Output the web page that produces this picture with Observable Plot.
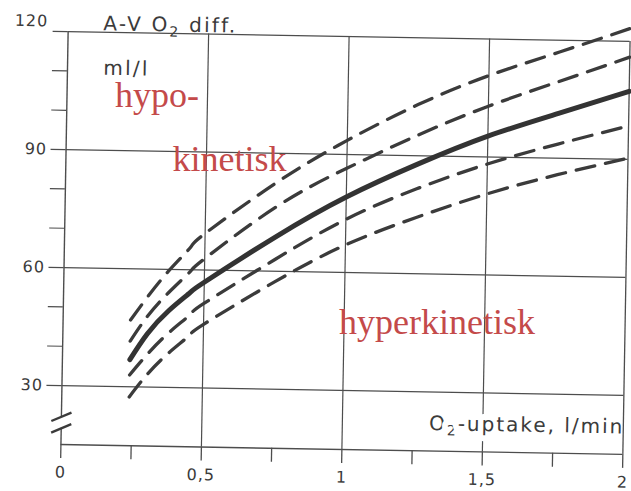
<!DOCTYPE html>
<html>
<head>
<meta charset="utf-8">
<script src="https://cdn.jsdelivr.net/npm/d3@7"></script>
<script src="https://cdn.jsdelivr.net/npm/@observablehq/plot@0.6"></script>
<style>
  html, body { margin: 0; padding: 0; background: #fff; }
  #chart svg { display: block; }
</style>
</head>
<body>
<div id="chart"></div>
<script>
// O2 uptake (l/min) where each curve is sampled
const uptake = [0.24, 0.3, 0.375, 0.45, 0.5, 0.75, 1, 1.25, 1.5, 1.75, 2];
// A-V O2 difference (ml/l): two upper dashed bands, the normal curve, two lower dashed bands
const upper2 = [47, 53, 59.8, 65.8, 69.3, 82.5, 93.6, 103, 110.7, 117, 123.3];
const upper1 = [41.6, 48, 54.2, 59.6, 62.9, 76.3, 86.5, 95.2, 102.9, 109.5, 116];
const normal = [36.9, 43.5, 49.5, 54.2, 56.9, 68.7, 79.2, 87.8, 95.3, 101.4, 107.3];
const lower1 = [33, 38.2, 43.8, 48.5, 51.5, 63, 73.5, 81.6, 88.2, 93.6, 98.5];
const lower2 = [27.4, 33, 38.6, 43.3, 46.2, 57.3, 67, 74.3, 80.6, 85.8, 90.3];

// axis ticks and labels
const xTicksMajor = [0, 0.5, 1, 1.5, 2];
const xTicksMinor = [0.25, 0.75, 1.25, 1.75];
const xTickLabels = ["0", "0,5", "1", "1,5", "2"];
const yTicks = [30, 40, 50, 60, 70, 80, 90, 100, 110, 120];
const yLabelValues = [30, 60, 90, 120];
const yTickLabels = ["30", "60", "90", "120"];

// titles and region labels
const yTitle = "A-V O\u2082 diff.";
const yUnit = "ml/l";
const xTitle = "O\u2082-uptake, l/min";
const regionText = ["hypo-", "kinetisk", "hyperkinetisk"];
const regionX = [0.18, 0.384, 0.977];
const regionY = [102.2, 85.9, 44.4];

// layout
const W = 631, H = 491;
const mL = 64, mR = 5, mT = 36, mB = 42;
const xMin = 0, xMax = 2, yMin = 15, yMax = 120;
const pxPerX = (W - mL - mR) / (xMax - xMin);
const pxPerY = (H - mT - mB) / (yMax - yMin);
const ink = "#3b3b3b";
const gridInk = "#4d4d4d";

// broken y axis: gap between the two slashes
const breakHi = 22.07, breakLo = 19.12;
const slashHalfX = 10 / pxPerX, slashRise = 4.4 / pxPerY;
const slashes = [breakHi, breakLo].map(v => ({x1: -slashHalfX, y1: v - slashRise, x2: slashHalfX, y2: v + slashRise}));
const axisSegments = [[yMin, breakLo], [breakHi, yMax]];

const xTickLen = 14 / pxPerY;
const yTickLen = 15 / pxPerX;

const series = [
  {name: "upper2", values: upper2, dashed: true},
  {name: "upper1", values: upper1, dashed: true},
  {name: "normal", values: normal, dashed: false},
  {name: "lower1", values: lower1, dashed: true},
  {name: "lower2", values: lower2, dashed: true}
];
const rows = series.flatMap(s => uptake.map((x, i) => ({x, y: s.values[i], name: s.name, dashed: s.dashed})));
const regions = regionText.map((t, i) => ({text: t, x: regionX[i], y: regionY[i]}));

const svg = Plot.plot({
  width: W, height: H,
  marginLeft: mL, marginRight: mR, marginTop: mT, marginBottom: mB,
  x: {domain: [xMin, xMax], axis: null},
  y: {domain: [yMin, yMax], axis: null},
  style: {background: "white"},
  marks: [
    // grid
    Plot.ruleY(yLabelValues, {y: d => d, x1: xMin, x2: xMax, stroke: gridInk, strokeWidth: 1.2}),
    Plot.ruleX([0.5, 1, 1.5], {x: d => d, y1: yMin, y2: yMax, stroke: gridInk, strokeWidth: 1.2}),
    // x axis title, knocked out of the grid
    Plot.text([xTitle], {x: xMax, y: yMin, text: d => d, dy: -21, dx: 1, textAnchor: "end", lineAnchor: "bottom",
      fontFamily: "DejaVu Sans", fontSize: 20, fill: ink, stroke: "white", strokeWidth: 12, paintOrder: "stroke",
      strokeLinejoin: "round", ariaDescription: "x title"}),
    // frame and axes
    Plot.ruleX([xMax], {x: d => d, y1: yMin, y2: yMax, stroke: gridInk, strokeWidth: 1.3}),
    Plot.ruleY([yMin], {y: d => d, x1: xMin, x2: xMax, stroke: gridInk, strokeWidth: 1.4}),
    Plot.ruleX(axisSegments, {x: 0, y1: d => d[0], y2: d => d[1], stroke: gridInk, strokeWidth: 1.4}),
    Plot.link(slashes, {x1: "x1", y1: "y1", x2: "x2", y2: "y2", stroke: ink, strokeWidth: 2.4}),
    Plot.ruleX(xTicksMajor.concat(xTicksMinor), {x: d => d, y1: yMin, y2: yMin - xTickLen, stroke: gridInk, strokeWidth: 1.3}),
    Plot.ruleY(yTicks, {y: d => d, x1: -yTickLen, x2: 0, stroke: gridInk, strokeWidth: 1.2}),
    // tick labels
    Plot.text(xTicksMajor, {x: d => d, y: yMin, text: (d, i) => xTickLabels[i], dy: 28,
      fontFamily: "DejaVu Sans", fontSize: 16, fill: ink, ariaDescription: "tick labels"}),
    Plot.text(yLabelValues.slice(0, 3), {x: 0, y: d => d, text: (d, i) => yTickLabels[i], dx: -19, textAnchor: "end",
      fontFamily: "DejaVu Sans", fontSize: 16, fill: ink, ariaDescription: "tick labels"}),
    Plot.text(yLabelValues.slice(3), {x: 0, y: d => d, text: (d, i) => yTickLabels[3 + i], dx: -20, dy: -10, textAnchor: "end",
      fontFamily: "DejaVu Sans", fontSize: 16, fill: ink, ariaDescription: "tick labels"}),
    // y title and unit
    Plot.text([yTitle], {x: 0.125, y: yMax, text: d => d, dy: -2, textAnchor: "start", lineAnchor: "bottom",
      fontFamily: "DejaVu Sans", fontSize: 20, fill: ink, ariaDescription: "y title"}),
    Plot.text([yUnit], {x: 0.128, y: 109.2, text: d => d, textAnchor: "start", lineAnchor: "bottom",
      fontFamily: "DejaVu Sans", fontSize: 20, fill: ink, ariaDescription: "y title"}),
    // curves
    Plot.line(rows.filter(r => r.dashed), {x: "x", y: "y", z: "name", curve: "natural",
      stroke: ink, strokeWidth: 3.3, strokeDasharray: "19,11", strokeLinecap: "round"}),
    Plot.line(rows.filter(r => !r.dashed), {x: "x", y: "y", z: "name", curve: "natural",
      stroke: "#333", strokeWidth: 5, strokeLinecap: "round"}),
    // region labels
    Plot.text(regions, {x: "x", y: "y", text: "text", textAnchor: "start", lineAnchor: "bottom",
      fontFamily: "Liberation Serif", fontSize: 36, fill: "#c44a4a", ariaDescription: "regions"})
  ]
});

const NS = "http://www.w3.org/2000/svg";
const groups = desc => Array.from(svg.querySelectorAll(`[aria-description="${desc}"]`));
const textsOf = desc => groups(desc).flatMap(g => Array.from(g.querySelectorAll("text")));

// spaced-out lettering of the printed labels, with a lowered subscript 2
textsOf("y title").forEach(t => t.style.letterSpacing = "2.2px");
textsOf("x title").forEach(t => t.style.letterSpacing = "2px");
textsOf("tick labels").forEach(t => t.style.letterSpacing = "1px");
textsOf("y title").concat(textsOf("x title")).forEach(t => {
  const s = t.textContent;
  const i = s.indexOf("\u2082");
  if (i < 0) return;
  t.textContent = s.slice(0, i);
  const sub = document.createElementNS(NS, "tspan");
  sub.setAttribute("dy", "5");
  sub.setAttribute("font-size", "14");
  sub.textContent = "2";
  const rest = document.createElementNS(NS, "tspan");
  rest.setAttribute("dy", "-5");
  rest.textContent = s.slice(i + 1);
  t.appendChild(sub);
  t.appendChild(rest);
});

// the printed chart sits at a slight clockwise tilt; the region labels stay level
const tilt = document.createElementNS(NS, "g");
tilt.setAttribute("transform", "rotate(1 345.25 242.25)");
let regionGroup = groups("regions")[0] || null;
while (regionGroup && regionGroup.parentNode !== svg) regionGroup = regionGroup.parentNode;
for (const node of Array.from(svg.childNodes)) {
  if (node.nodeName === "style" || node === regionGroup) continue;
  tilt.appendChild(node);
}
if (regionGroup) svg.insertBefore(tilt, regionGroup); else svg.appendChild(tilt);

document.getElementById("chart").appendChild(svg);
</script>
</body>
</html>
